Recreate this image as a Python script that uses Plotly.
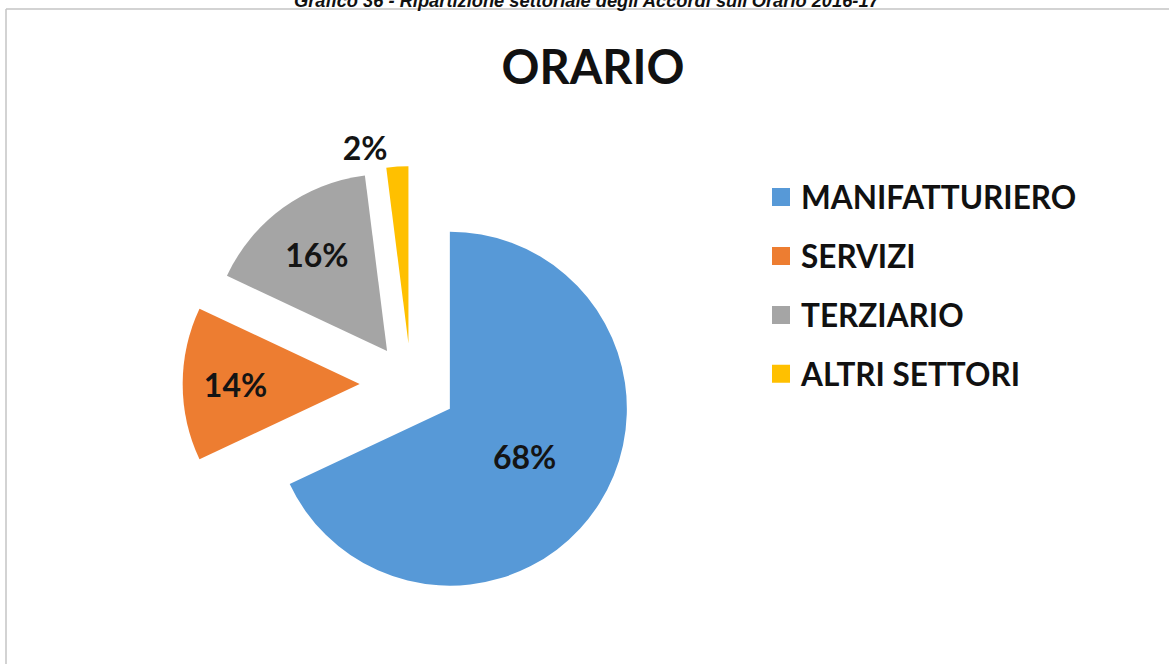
import plotly.graph_objects as go

categories = ["MANIFATTURIERO", "SERVIZI", "TERZIARIO", "ALTRI SETTORI"]
values = [68, 14, 16, 2]
pulls = [0.26, 0.29, 0.23, 0.23]
colors = ["#5799D7", "#ED7D31", "#A5A5A5", "#FFC000"]
chart_title = "ORARIO"
caption = "Grafico 36 - Ripartizione settoriale degli Accordi sull'Orario 2016-17"

W, H = 1169, 664

# pie placement (screen pixels): centre and half-size of the pie box
cx, cy, radius = 411, 384, 177
half = radius * (1 + max(pulls))

fig = go.Figure()
fig.add_trace(go.Pie(
    labels=categories, values=values, sort=False, direction="clockwise", rotation=0,
    marker=dict(colors=colors), pull=pulls,
    texttemplate="%{percent:.0%}",
    textposition=["inside", "inside", "inside", "outside"],
    insidetextorientation="horizontal",
    textfont=dict(family="Lato", size=32, color="#141414", weight="bold"),
    domain=dict(x=[(cx - half) / W, (cx + half) / W],
                y=[1 - (cy + half) / H, 1 - (cy - half) / H]),
    showlegend=False, hoverinfo="label+percent", automargin=False,
))
for c, col in zip(categories, colors):
    fig.add_trace(go.Scatter(
        x=[None], y=[None], mode="markers", name=c, legendgroup=c,
        marker=dict(symbol="square", size=16, color=col, line=dict(width=2, color=col)),
        hoverinfo="skip",
    ))

frame_col = "#c4c4c4"
fig.update_layout(
    width=W, height=H, autosize=False,
    margin=dict(l=0, r=0, t=0, b=0, pad=0, autoexpand=False),
    paper_bgcolor="white", plot_bgcolor="white",
    xaxis=dict(visible=False), yaxis=dict(visible=False),
    title=dict(text=chart_title, x=593 / W, xanchor="center", y=1 - 68 / H, yanchor="middle",
               yref="container", font=dict(family="Lato", size=47, color="#111", weight="bold")),
    legend=dict(x=761 / W, xanchor="left", y=1 - 170 / H, yanchor="top",
                font=dict(family="Lato", size=31.5, color="#111", weight="bold"),
                tracegroupgap=15, bgcolor="rgba(0,0,0,0)", itemclick=False),
    shapes=[
        dict(type="line", xref="paper", yref="paper", x0=6 / W, x1=1, y0=1 - 9 / H, y1=1 - 9 / H,
             line=dict(color=frame_col, width=1.5), layer="below"),
        dict(type="line", xref="paper", yref="paper", x0=6 / W, x1=6 / W, y0=0, y1=1 - 9 / H,
             line=dict(color=frame_col, width=1.5), layer="below"),
    ],
    annotations=[dict(text="<b><i>" + caption + "</i></b>", xref="paper", yref="paper",
                      x=587 / W, y=1, xanchor="center", yanchor="middle", showarrow=False,
                      font=dict(family="Liberation Sans", size=18.3, color="#111"))],
)

fig.write_html("out.html", config={"displayModeBar": False},
               post_script="document.body.style.margin='0';")
